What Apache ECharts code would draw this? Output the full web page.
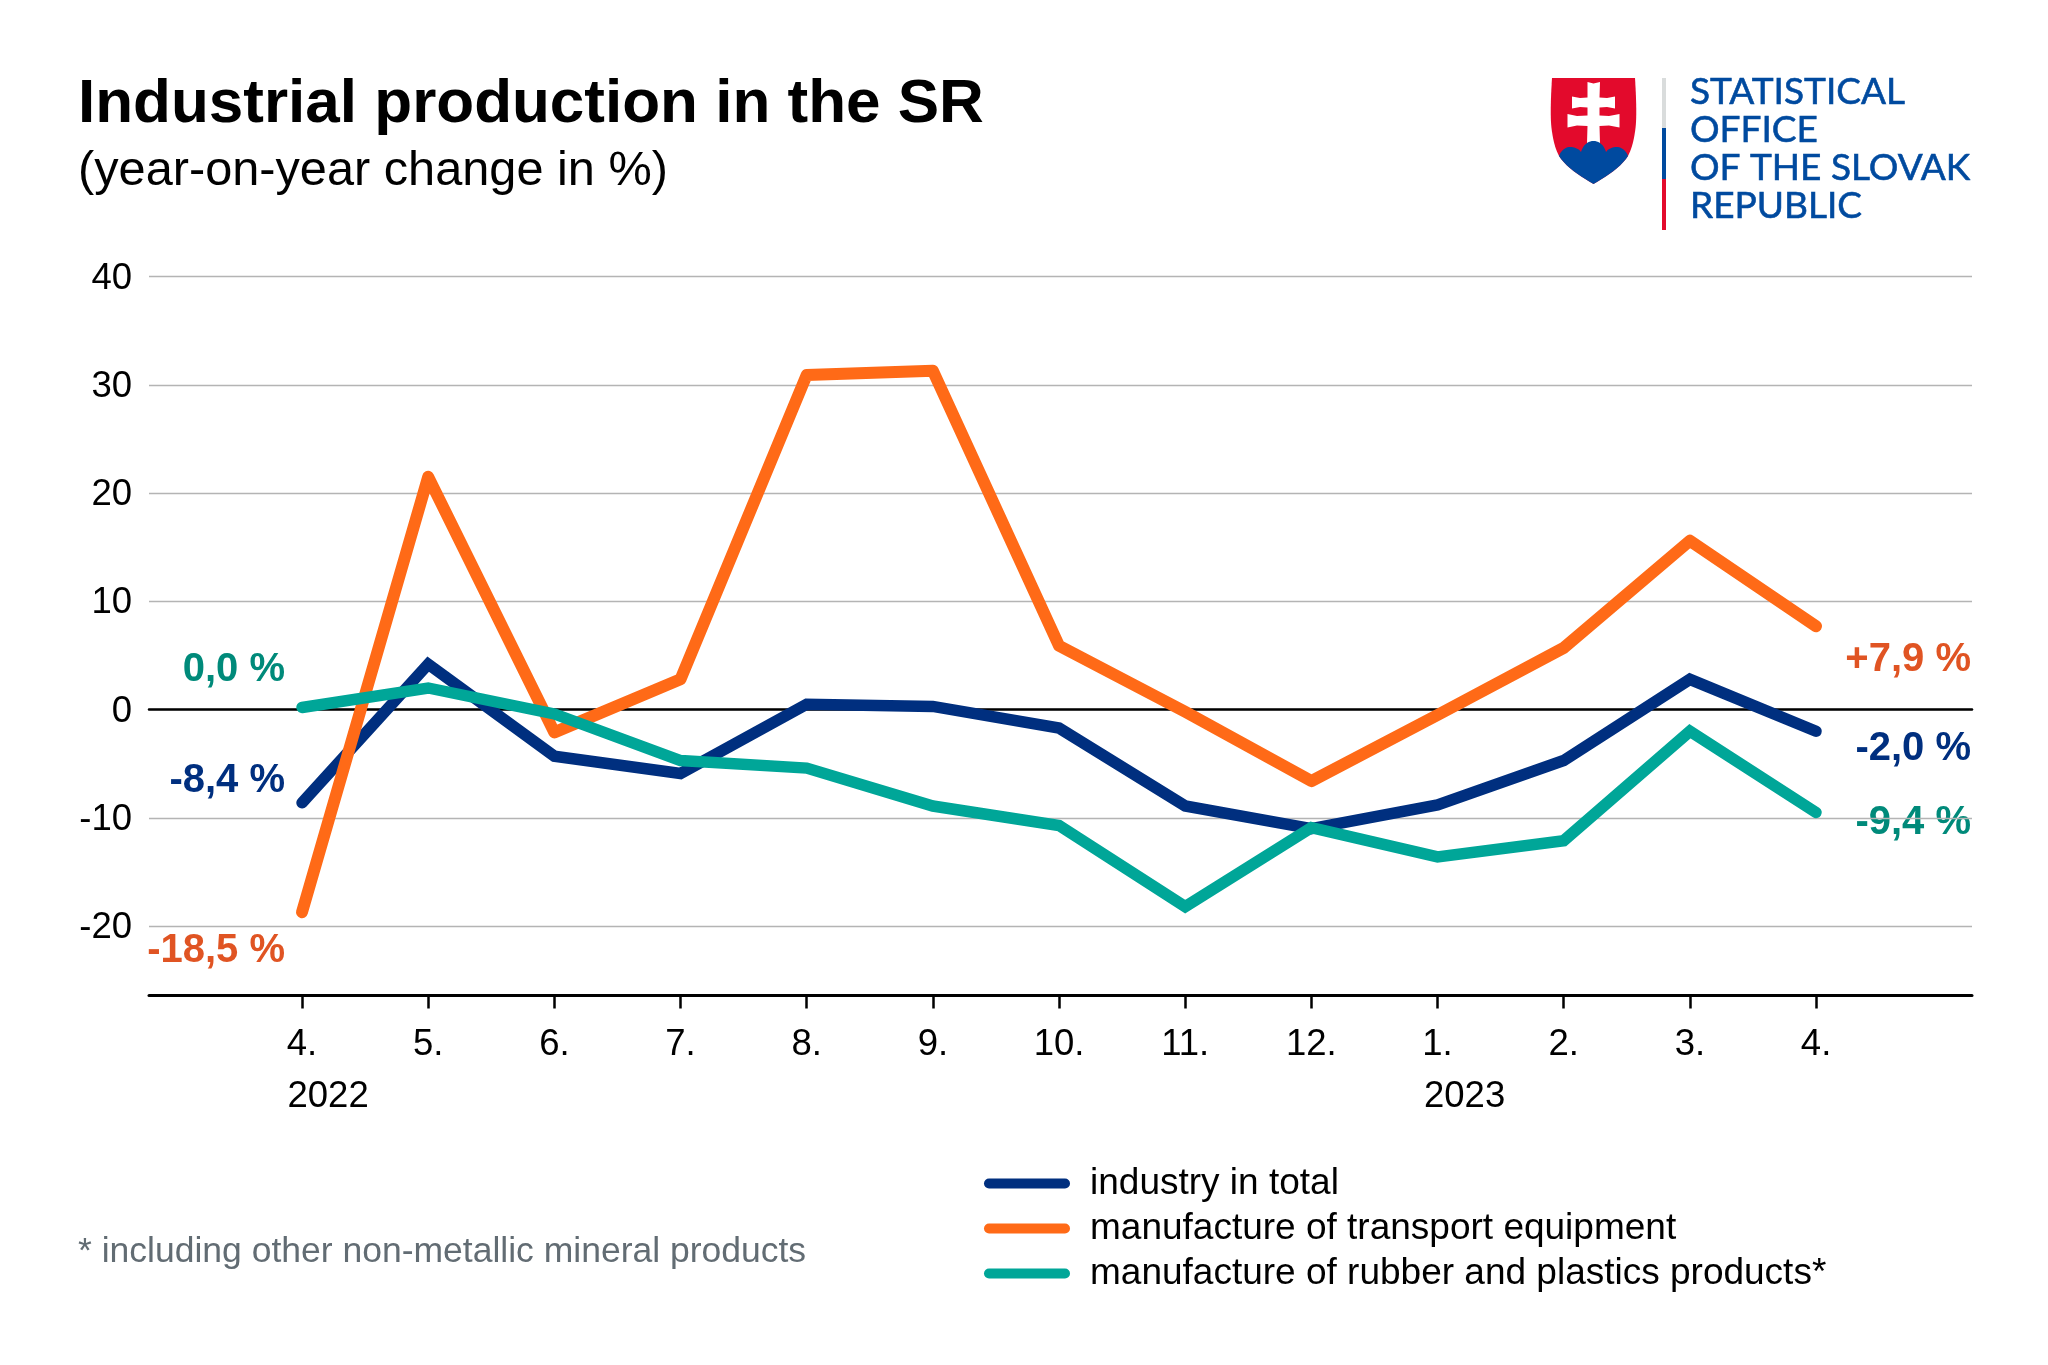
<!DOCTYPE html>
<html><head><meta charset="utf-8">
<style>html,body{margin:0;padding:0;background:#fff}#c{width:2048px;height:1365px}</style>
<script src="https://cdn.jsdelivr.net/npm/echarts@6/dist/echarts.min.js"></script>
</head><body><div id="c"></div>
<script>
const categories = ['4.','5.','6.','7.','8.','9.','10.','11.','12.','1.','2.','3.','4.'];
const yTicks = [-20,-10,0,10,20,30,40];
const industryTotal = [-8.6,4.2,-4.3,-5.9,0.5,0.3,-1.7,-8.9,-11.0,-8.8,-4.7,2.8,-2.0];
const transportEquipment = [-18.7,21.5,-2.1,2.8,30.9,31.3,5.9,-0.2,-6.6,-0.5,5.7,15.6,7.7];
const rubberPlastics = [0.2,2.0,-0.4,-4.7,-5.4,-8.9,-10.7,-18.2,-10.9,-13.6,-12.1,-2.0,-9.5];
const seriesNames = ['industry in total','manufacture of transport equipment','manufacture of rubber and plastics products*'];
const seriesColors = ['#002f7f','#ff6a17','#00a698'];
const labelColors = {navy:'#002f7f',orange:'#e05423',teal:'#008a7a'};
const FONT = '"Liberation Sans", Arial, sans-serif';
const idx = categories.map((_, i) => i);
const toPoints = a => a.map((v, i) => [i, v]);
const XMIN = -1.2127, XMAX = 13.236;

function txt(x, y, text, font, fill, align, extra) {
  return {type:'text', x, y, silent:true, style:Object.assign({text, font, fill, textAlign:align||'left', textVerticalAlign:'middle'}, extra||{})};
}
// flatten an outline made of [x,y] points and [c1x,c1y,c2x,c2y,x,y] cubic segments
function outline(segs) {
  const pts = []; let p = null;
  segs.forEach(s => {
    if (s.length === 2) { pts.push(s); p = s; return; }
    for (let k = 1; k <= 10; k++) {
      const t = k/10, u = 1-t;
      pts.push([u*u*u*p[0]+3*u*u*t*s[0]+3*u*t*t*s[2]+t*t*t*s[4], u*u*u*p[1]+3*u*u*t*s[1]+3*u*t*t*s[3]+t*t*t*s[5]]);
    }
    p = [s[4], s[5]];
  });
  return pts;
}
function poly(segs, fill) { return {type:'polygon', silent:true, shape:{points:outline(segs)}, style:{fill}}; }
const valueLabels = [
  [285,670,'0,0 %',labelColors.teal,'right'],
  [285,781,'-8,4 %',labelColors.navy,'right'],
  [285,951,'-18,5 %',labelColors.orange,'right'],
  [1971,660,'+7,9 %',labelColors.orange,'right'],
  [1971,749,'-2,0 %',labelColors.navy,'right'],
  [1971,823,'-9,4 %',labelColors.teal,'right']
];
const logoLines = ['STATISTICAL','OFFICE','OF THE SLOVAK','REPUBLIC'];
const logoFont = '37px Lato, "Open Sans", sans-serif';
const graphics = [
  txt(78,105,'Industrial production in the SR','bold 62px '+FONT,'#000'),
  txt(78,172,'(year-on-year change in %)','48.7px '+FONT,'#000'),
  txt(78,1252,'* including other non-metallic mineral products','35.5px '+FONT,'#626c73'),
  txt(287.5,1097,'2022','36.5px '+FONT,'#000'),
  txt(1424,1097,'2023','36.5px '+FONT,'#000'),
  {type:'rect',silent:true,shape:{x:1829,y:800,width:146,height:40},style:{fill:'#fff'}},
  ...valueLabels.map(l => txt(l[0],l[1],l[2],'bold 40px '+FONT,l[3],l[4])),
  poly([[1552,78],[1635,78],[1636,95,1637,115,1635.5,128],[1634,140,1632,148,1628,156],[1622,166,1606,177,1593.5,184],[1581,177,1565,166,1559,156],[1555,148,1553,140,1551.5,128],[1550,115,1551,95,1552,78]],'#e30a2c'),
  poly([[1587.5,82],[1593.5,83.5],[1600,82],[1599.5,97.5],[1607,98],[1615,96.5],[1615,108.5],[1607,107],[1599.5,107.5],[1599.5,115.5],[1609,116],[1619.5,114],[1619.5,127.5],[1609,125.5],[1599.5,126],[1600,143],[1587,143],[1587.5,126],[1577,125.5],[1567.5,127.5],[1567.5,114],[1577,116],[1587.5,115.5],[1587.5,107.5],[1580,107],[1572,108.5],[1572,96.5],[1580,98],[1587.5,97.5]],'#fff'),
  poly([[1559,156],[1561,150,1566,147,1570,147],[1575,147,1579,149,1581,152],[1583,145,1588,141,1593.5,141],[1599,141,1604,145,1606,152],[1608,149,1612,147,1616.5,147],[1621,147,1626,150,1628,156],[1622,166,1606,177,1593.5,184],[1581,177,1565,166,1559,156]],'#004a9f'),
  {type:'rect',silent:true,shape:{x:1662,y:78,width:4,height:50},style:{fill:'#d9dcdc'}},
  {type:'rect',silent:true,shape:{x:1662,y:128,width:4,height:51},style:{fill:'#004a9f'}},
  {type:'rect',silent:true,shape:{x:1662,y:179,width:4,height:51},style:{fill:'#e30a2c'}},
  ...logoLines.map((t,i) => txt(1690,92+i*37.9,t,logoFont,'#004a9f','left',{stroke:'#004a9f',lineWidth:0.6}))
];

const chart = echarts.init(document.getElementById('c'), null, {renderer:'canvas'});
chart.setOption({
  animation:false,
  backgroundColor:'#fff',
  textStyle:{fontFamily:FONT},
  grid:{left:149,right:76,top:276.5,bottom:369.5,containLabel:false},
  legend:{
    show:true, orient:'vertical', left:979, top:1160, itemWidth:86, itemHeight:10, itemGap:8,
    icon:'path://M5,0 H81 A5,5 0 0 1 81,10 H5 A5,5 0 0 1 5,0 Z',
    textStyle:{fontSize:37,color:'#000',fontFamily:FONT,padding:[0,0,0,15],lineHeight:35},
    data:seriesNames
  },
  xAxis:[{
    type:'value', min:XMIN, max:XMAX, position:'bottom',
    axisLine:{show:true,onZero:false,lineStyle:{color:'#000',width:3}},
    axisTick:{show:true,length:13,customValues:idx,lineStyle:{color:'#000',width:2.5}},
    axisLabel:{show:true,customValues:idx,margin:31,fontSize:36.5,color:'#000',fontFamily:FONT,formatter:v=>categories[v]},
    splitLine:{show:false}
  },{
    type:'value', min:XMIN, max:XMAX, position:'bottom',
    axisLine:{show:true,onZero:true,lineStyle:{color:'#000',width:2.5}},
    axisTick:{show:false},axisLabel:{show:false},splitLine:{show:false}
  }],
  yAxis:{
    type:'value', min:-26.4, max:40,
    axisLine:{show:false,onZero:false},
    axisTick:{show:false,customValues:yTicks},
    axisLabel:{show:true,customValues:yTicks,margin:17,fontSize:36.5,color:'#000',fontFamily:FONT,verticalAlign:'top',lineHeight:4},
    splitLine:{show:true,lineStyle:{color:'#b4b4b4',width:1.3}}
  },
  series:[industryTotal,transportEquipment,rubberPlastics].map((d,i)=>({
    name:seriesNames[i], type:'line', data:toPoints(d), symbol:'none', smooth:false, z:3+i,
    itemStyle:{color:seriesColors[i]},
    lineStyle:{color:seriesColors[i],width:i===1?12:11.5,cap:'round',join:i===1?'round':'miter',miterLimit:10}
  })),
  graphic:{elements:graphics}
});
</script></body></html>
